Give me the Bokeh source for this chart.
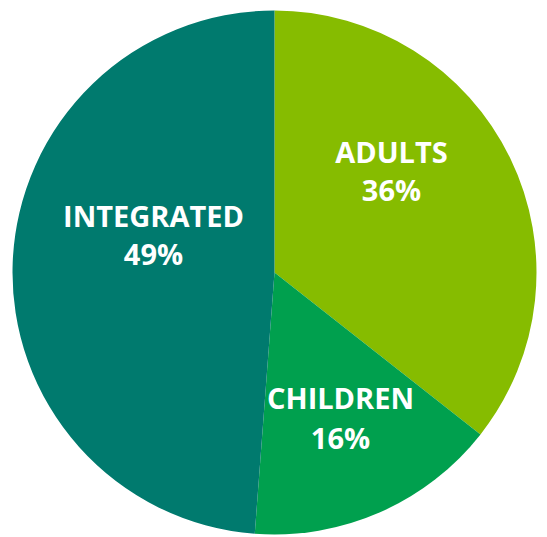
import math
from bokeh.plotting import figure
from bokeh.models import ColumnDataSource, Range1d
from bokeh.core.properties import value
from bokeh.embed import file_html
from bokeh.resources import INLINE

# data
categories = ["ADULTS", "CHILDREN", "INTEGRATED"]
shares = [35.6, 15.6, 48.8]
pct_labels = ["36%", "16%", "49%"]
colors = ["#86BC00", "#00A04E", "#007A6E"]

W, H = 547, 537
# label anchor (window pixel coords of text centre)
label_pos = [(391, 151, 189), (340, 397, 437), (153, 215, 253)]
cx, cy, R = 274, H - 272, 262

total = sum(shares)
starts, ends = [], []
acc = 0.0
for s in shares:
    starts.append(math.pi / 2 - 2 * math.pi * acc / total)
    acc += s
    ends.append(math.pi / 2 - 2 * math.pi * acc / total)

src = ColumnDataSource(dict(cat=categories, start=starts, end=ends, color=colors))

p = figure(width=W, height=H, output_backend="svg", toolbar_location=None,
           x_range=Range1d(0, W), y_range=Range1d(0, H), min_border=0)
p.axis.visible = False
p.grid.visible = False
p.outline_line_color = None
p.background_fill_color = "white"

p.wedge(x=cx, y=cy, radius=R, start_angle="start", end_angle="end",
        direction="clock", fill_color="color", line_color=None, source=src)

tx = [lp[0] for lp in label_pos]
ty1 = [H - lp[1] for lp in label_pos]
ty2 = [H - lp[2] for lp in label_pos]
for ys, texts in ((ty1, categories), (ty2, pct_labels)):
    p.text(x=tx, y=ys, text=texts, text_font=value("Open Sans"),
           text_font_style="bold", text_font_size="29px", text_color="white",
           text_align="center", text_baseline="middle")

open("out.html", "w").write(file_html(p, INLINE))
